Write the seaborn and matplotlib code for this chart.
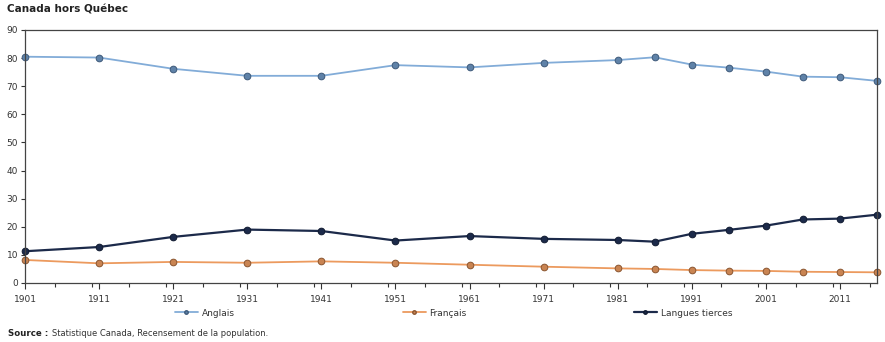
import matplotlib
matplotlib.use("Agg")
import matplotlib.pyplot as plt
import seaborn as sns
import pandas as pd
from matplotlib.ticker import MultipleLocator
from matplotlib.lines import Line2D

years = [1901, 1911, 1921, 1931, 1941, 1951, 1961, 1971, 1981, 1986, 1991, 1996, 2001, 2006, 2011, 2016]
anglais = [80.5, 80.2, 76.2, 73.7, 73.7, 77.5, 76.7, 78.3, 79.3, 80.3, 77.7, 76.6, 75.2, 73.4, 73.2, 71.9]
francais = [8.2, 7.0, 7.5, 7.2, 7.7, 7.2, 6.5, 5.8, 5.2, 5.0, 4.6, 4.4, 4.3, 4.0, 3.9, 3.8]
tierces = [11.3, 12.8, 16.4, 19.0, 18.5, 15.1, 16.7, 15.7, 15.3, 14.7, 17.5, 18.9, 20.4, 22.6, 22.9, 24.3]
series_names = ["Anglais", "Français", "Langues tierces"]
xtick_labels = [1901, 1911, 1921, 1931, 1941, 1951, 1961, 1971, 1981, 1991, 2001, 2011]

line_colors = {"Anglais": "#82acd8", "Français": "#ec9a5e", "Langues tierces": "#1c2a4a"}
marker_faces = {"Anglais": "#5f82a8", "Français": "#c98452", "Langues tierces": "#1c2a4a"}
marker_edges = {"Anglais": "#3e5a7a", "Français": "#8a5530", "Langues tierces": "#101a30"}
widths = {"Anglais": 1.3, "Français": 1.3, "Langues tierces": 1.6}

df = pd.DataFrame({
    "year": years * 3,
    "value": anglais + francais + tierces,
    "serie": [series_names[0]] * len(years) + [series_names[1]] * len(years) + [series_names[2]] * len(years),
})

sns.set_style("white")
plt.rcParams["font.family"] = ["DejaVu Sans"]

fig = plt.figure(figsize=(8.85, 3.42), dpi=100)
ax = fig.add_axes([25 / 885, 1 - 283 / 342, 852 / 885, 253 / 342])

sns.lineplot(data=df, x="year", y="value", hue="serie", palette=line_colors,
             hue_order=series_names, marker="o", ax=ax, legend=False)

handles = []
for line, name in zip(ax.lines, series_names):
    line.set_linewidth(widths[name])
    line.set_markersize(4.8)
    line.set_markerfacecolor(marker_faces[name])
    line.set_markeredgecolor(marker_edges[name])
    line.set_markeredgewidth(0.7)
    line.set_clip_on(False)
    h = Line2D([0], [0], color=line_colors[name], lw=widths[name], marker="o",
               markersize=2.5, markerfacecolor=marker_faces[name], markeredgecolor=marker_edges[name])
    handles.append(h)

ax.set_xlim(1901, 2016)
ax.set_ylim(0, 90)
ax.set_xticks(xtick_labels)
ax.set_xticklabels([str(y) for y in xtick_labels])
ax.xaxis.set_minor_locator(MultipleLocator(5))
ax.set_yticks(range(0, 91, 10))
ax.set_xlabel("")
ax.set_ylabel("")
ax.tick_params(axis="both", which="both", labelsize=6.5, colors="#333333", direction="out")
ax.tick_params(axis="x", which="major", length=4, width=0.8, pad=5, bottom=True)
ax.tick_params(axis="x", which="minor", length=3, width=0.8, bottom=True)
ax.tick_params(axis="y", which="major", length=3, width=0.8, pad=2, left=True)
for s in ax.spines.values():
    s.set_visible(True)
    s.set_color("#444444")
    s.set_linewidth(0.9)

fig.text(7 / 885, 1 - 10 / 342, "Canada hors Québec", fontsize=7.5, fontweight="bold",
         color="#222222", va="center", ha="left")

legend_x = [177, 405, 636]
for h, name, x in zip(handles, series_names, legend_x):
    fig.legend([h], [name], loc="center left", bbox_to_anchor=(x / 885 - 0.012, 1 - 313 / 342),
               frameon=False, fontsize=6.5, handlelength=2.6, handletextpad=0.4,
               labelcolor="#333333")

fig.text(8 / 885, 1 - 333 / 342, "Source :", fontsize=6.2, fontweight="bold", color="#222222",
         va="center", ha="left")
fig.text(52 / 885, 1 - 333 / 342, "Statistique Canada, Recensement de la population.", fontsize=6.0,
         color="#333333", va="center", ha="left")

fig.savefig("out.png", dpi=100)
